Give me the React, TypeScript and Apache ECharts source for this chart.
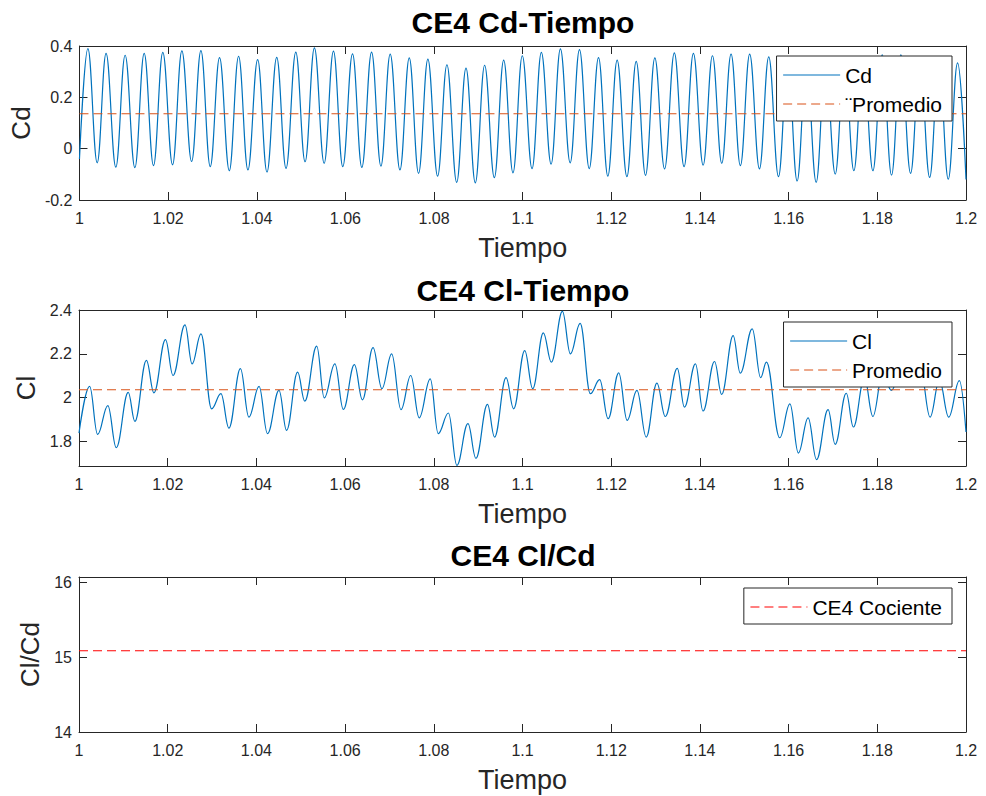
import { useEffect, useRef } from "react";
import * as echarts from "echarts";

// Drag coefficient: turning points of the signal over time (s)
const cdTime = [
  1.0, 1.0019, 1.004, 1.006, 1.0082, 1.0103, 1.0125, 1.0146, 1.0167, 1.0188, 1.021, 1.0231, 1.0253, 1.0274,
  1.0295, 1.0316, 1.0338, 1.0359, 1.038, 1.0402, 1.0423, 1.0445, 1.0466, 1.0488, 1.0509, 1.053, 1.0552, 1.0573,
  1.0594, 1.0616, 1.0637, 1.0659, 1.068, 1.0701, 1.0723, 1.0744, 1.0765, 1.0786, 1.0808, 1.0829, 1.0851, 1.0872,
  1.0893, 1.0914, 1.0936, 1.0957, 1.0978, 1.0999, 1.1021, 1.1042, 1.1064, 1.1085, 1.1107, 1.1128, 1.115, 1.1171,
  1.1192, 1.1213, 1.1235, 1.1256, 1.1277, 1.1298, 1.132, 1.1342, 1.1364, 1.1385, 1.1407, 1.1428, 1.1449, 1.147,
  1.1491, 1.1512, 1.1534, 1.1555, 1.1577, 1.1598, 1.1619, 1.164, 1.1662, 1.1683, 1.1705, 1.1726, 1.1747, 1.1768,
  1.179, 1.1811, 1.1832, 1.1853, 1.1875, 1.1896, 1.1918, 1.1939, 1.196, 1.1981, 1.2,
];
const cdValue = [
  -0.04, 0.39, -0.055, 0.371, -0.072, 0.364, -0.074, 0.371, -0.066, 0.375, -0.063, 0.381, -0.05, 0.382, -0.07,
  0.355, -0.086, 0.36, -0.083, 0.347, -0.091, 0.356, -0.077, 0.376, -0.051, 0.393, -0.057, 0.38, -0.07, 0.369,
  -0.073, 0.376, -0.068, 0.368, -0.083, 0.354, -0.096, 0.349, -0.107, 0.327, -0.131, 0.314, -0.133, 0.325, -0.113,
  0.345, -0.094, 0.362, -0.078, 0.375, -0.06, 0.389, -0.055, 0.386, -0.078, 0.355, -0.107, 0.345, -0.109, 0.34,
  -0.104, 0.354, -0.079, 0.373, -0.07, 0.371, -0.064, 0.362, -0.057, 0.368, -0.066, 0.368, -0.079, 0.358, -0.109,
  0.345, -0.126, 0.338, -0.131, 0.345, -0.099, 0.352, -0.086, 0.356, -0.086, 0.366, -0.103, 0.366, -0.096, 0.35,
  -0.112, 0.345, -0.119, 0.334, -0.12,
];

// Lift coefficient: turning points of the signal over time (s)
const clTime = [
  1.0, 1.0024, 1.0042, 1.0065, 1.0084, 1.0111, 1.0126, 1.0152, 1.0169, 1.0195, 1.0212, 1.0239, 1.0255, 1.0275,
  1.0299, 1.032, 1.0338, 1.0364, 1.0383, 1.0406, 1.0425, 1.0451, 1.0468, 1.0493, 1.0509, 1.0536, 1.0553, 1.0577,
  1.0596, 1.0621, 1.0639, 1.0663, 1.0683, 1.0705, 1.0726, 1.0748, 1.0767, 1.0792, 1.081, 1.0833, 1.0852, 1.0877,
  1.0895, 1.0921, 1.0937, 1.0963, 1.098, 1.1005, 1.1023, 1.1047, 1.1065, 1.109, 1.1108, 1.113, 1.1153, 1.1174,
  1.1193, 1.1217, 1.1236, 1.1258, 1.1279, 1.1303, 1.1322, 1.1349, 1.1365, 1.139, 1.1407, 1.1433, 1.1449, 1.1475,
  1.1491, 1.1518, 1.1537, 1.155, 1.158, 1.1603, 1.1622, 1.1644, 1.1663, 1.1689, 1.1705, 1.173, 1.1746, 1.1771,
  1.179, 1.1812, 1.1832, 1.1855, 1.1875, 1.1898, 1.1919, 1.194, 1.1961, 1.1985, 1.2,
];
const clValue = [
  1.838, 2.051, 1.832, 1.964, 1.772, 2.024, 1.892, 2.17, 2.022, 2.265, 2.101, 2.332, 2.154, 2.291, 1.949, 2.018,
  1.861, 2.132, 1.911, 2.051, 1.836, 2.033, 1.851, 2.116, 1.984, 2.235, 1.999, 2.154, 1.946, 2.151, 1.99, 2.228,
  2.041, 2.2, 1.945, 2.101, 1.908, 2.086, 1.836, 1.93, 1.691, 1.881, 1.723, 1.969, 1.82, 2.091, 1.949, 2.215,
  2.041, 2.296, 2.162, 2.394, 2.2, 2.339, 2.018, 2.082, 1.904, 2.113, 1.896, 2.033, 1.82, 2.066, 1.914, 2.134,
  1.957, 2.154, 1.939, 2.165, 2.015, 2.283, 2.112, 2.314, 2.091, 2.162, 1.817, 1.972, 1.747, 1.908, 1.717, 1.945,
  1.787, 2.02, 1.866, 2.09, 1.914, 2.11, 2.033, 2.14, 2.06, 2.12, 1.911, 2.08, 1.911, 2.078, 1.843,
];

// Averages and their quotient, held over the whole time window
const spanTime = [1.0, 1.2];
const cdMean = [0.136, 0.136];
const clMean = [2.036, 2.036];
const ratioValue = [15.085, 15.085];

// Axis ticks
const cdTicks = [-0.2, 0, 0.2, 0.4];
const clTicks = [1.8, 2.0, 2.2, 2.4];
const ratioTicks = [14, 15, 16];

const FONT = "'Liberation Sans', Arial, Helvetica, sans-serif";
const INK = "#262626";
const BLUE = "#0072BD";
const ORANGE = "#D95319";
const RED = "#FF0000";

const zip = (xs: number[], ys: number[]) => xs.map((x, i) => [x, ys[i]]);

const tick = { show: true, inside: true, length: 8, lineStyle: { color: INK, width: 1 } };
const line = { show: true, onZero: false, lineStyle: { color: INK, width: 1 } };

function timeAxis(gridIndex: number, position: "bottom" | "top") {
  const main = position === "bottom";
  return {
    type: "value",
    gridIndex,
    position,
    min: 1,
    max: 1.2,
    interval: 0.02,
    axisLine: line,
    axisTick: tick,
    splitLine: { show: false },
    axisLabel: { show: main, color: INK, fontSize: 16, fontFamily: FONT, margin: 10 },
    name: main ? "Tiempo" : "",
    nameLocation: "middle",
    nameGap: 34,
    nameTextStyle: { color: INK, fontSize: 27, fontFamily: FONT },
  };
}

function valueAxis(
  gridIndex: number,
  position: "left" | "right",
  min: number,
  max: number,
  ticks: number[],
  name: string,
  nameGap: number
) {
  const main = position === "left";
  return {
    type: "value",
    gridIndex,
    position,
    min,
    max,
    axisLine: line,
    axisTick: { ...tick, customValues: ticks },
    splitLine: { show: false },
    axisLabel: { show: main, customValues: ticks, color: INK, fontSize: 16, fontFamily: FONT, margin: 7 },
    name: main ? name : "",
    nameLocation: "middle",
    nameGap,
    nameTextStyle: { color: INK, fontSize: 26, fontFamily: FONT },
  };
}

function legend(names: string[], top: number) {
  return {
    data: names,
    orient: "vertical",
    right: 34,
    top,
    backgroundColor: "#fff",
    borderColor: INK,
    borderWidth: 1,
    borderRadius: 0,
    padding: [8, 10, 6, 6],
    itemWidth: 57,
    itemHeight: 14,
    itemGap: 7,
    selectedMode: false,
    // line sample only, no marker in the middle
    itemStyle: { color: "transparent", borderWidth: 0, opacity: 0 },
    lineStyle: { width: 1.2 },
    textStyle: { color: "#000", fontSize: 21, fontFamily: FONT, lineHeight: 22 },
  };
}

function title(text: string, top: number) {
  return {
    text,
    left: 523,
    top,
    padding: 0,
    textAlign: "center",
    textStyle: { color: "#000", fontSize: 30, fontWeight: "bold", fontFamily: FONT },
  };
}

function trace(name: string, axis: number, data: number[][], color: string, dashed: boolean, smooth: boolean) {
  return {
    name,
    type: "line",
    xAxisIndex: axis,
    yAxisIndex: axis,
    data,
    symbol: "none",
    smooth: smooth ? 0.4 : false,
    smoothMonotone: "x",
    lineStyle: { color, width: 1.2, type: dashed ? [9, 5] : "solid" },
    itemStyle: { color },
    emphasis: { disabled: true },
    silent: true,
  };
}

const option = {
  animation: false,
  backgroundColor: "#fff",
  title: [title("CE4 Cd-Tiempo", 7), title("CE4 Cl-Tiempo", 275), title("CE4 Cl/Cd", 540)],
  grid: [
    { left: 79, top: 46, width: 887, height: 154 },
    { left: 79, top: 310, width: 887, height: 156 },
    { left: 79, top: 577, width: 887, height: 155 },
  ],
  xAxis: [
    timeAxis(0, "bottom"),
    timeAxis(1, "bottom"),
    timeAxis(2, "bottom"),
    timeAxis(0, "top"),
    timeAxis(1, "top"),
    timeAxis(2, "top"),
  ],
  yAxis: [
    valueAxis(0, "left", -0.2, 0.4, cdTicks, "Cd", 44),
    valueAxis(1, "left", 1.688, 2.4, clTicks, "Cl", 40),
    valueAxis(2, "left", 14, 16.07, ratioTicks, "Cl/Cd", 34),
    valueAxis(0, "right", -0.2, 0.4, cdTicks, "", 0),
    valueAxis(1, "right", 1.688, 2.4, clTicks, "", 0),
    valueAxis(2, "right", 14, 16.07, ratioTicks, "", 0),
  ],
  legend: [legend(["Cd", "\u00A8Promedio"], 56), legend(["Cl", "Promedio"], 322), legend(["CE4 Cociente"], 588)],
  series: [
    trace("Cd", 0, zip(cdTime, cdValue), BLUE, false, true),
    trace("\u00A8Promedio", 0, zip(spanTime, cdMean), ORANGE, true, false),
    trace("Cl", 1, zip(clTime, clValue), BLUE, false, true),
    trace("Promedio", 1, zip(spanTime, clMean), ORANGE, true, false),
    trace("CE4 Cociente", 2, zip(spanTime, ratioValue), RED, true, false),
  ],
};

export default function App() {
  const ref = useRef<HTMLDivElement>(null);
  useEffect(() => {
    const chart = echarts.init(ref.current as HTMLDivElement, null, { renderer: "svg" });
    chart.setOption(option as any);
    return () => chart.dispose();
  }, []);
  return (
    <div
      ref={ref}
      style={{ position: "fixed", left: 0, top: 0, width: 986, height: 796, background: "#fff" }}
    />
  );
}
